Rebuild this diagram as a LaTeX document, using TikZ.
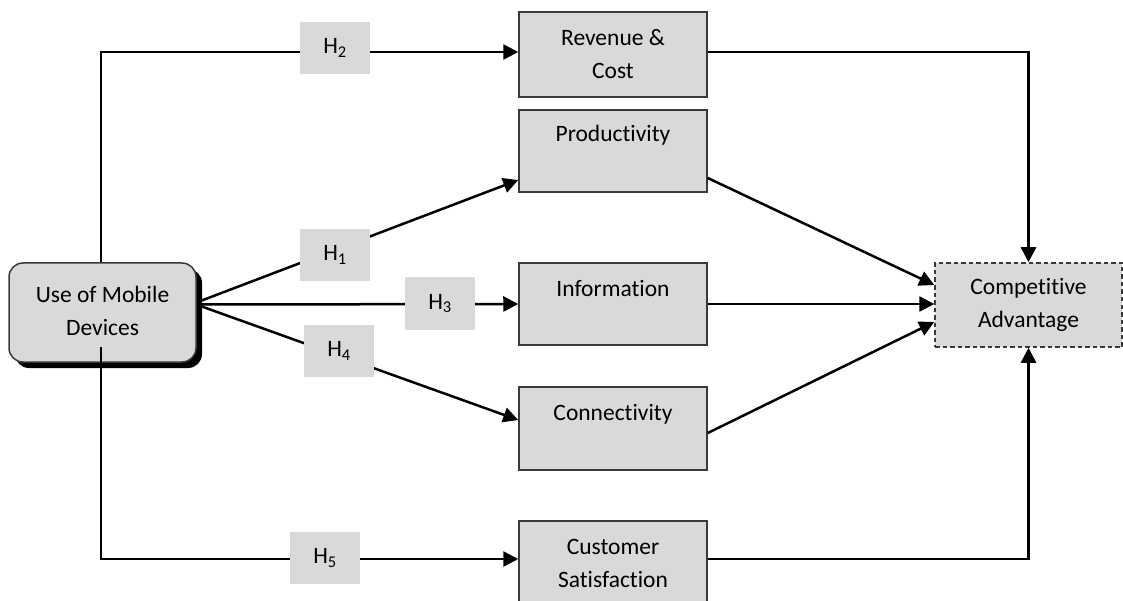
\documentclass[tikz,border=0pt]{standalone}
\usepackage{fontspec}
\setmainfont{Carlito}[Ligatures={NoCommon}]
\usetikzlibrary{arrows.meta,shadows}
\definecolor{boxgray}{HTML}{D9D9D9}
\definecolor{edgegray}{HTML}{3A3A3A}
\begin{document}
\begin{tikzpicture}[x=1pt,y=-1pt,
  every node/.style={font=\fontsize{23.5}{33}\selectfont},
  box/.style={draw=edgegray, line width=1.5pt, fill=boxgray, inner sep=0pt, minimum width=188pt, align=center},
  hbox/.style={fill=boxgray, inner sep=0pt, minimum width=70pt, minimum height=52pt},
  conn/.style={line width=2.5pt, -{Triangle[length=15pt,width=15pt]}}
]
\useasboundingbox (0,0) rectangle (1123,601);
% boxes
\node[box, rounded corners=14pt, minimum width=187pt, minimum height=99pt,
      drop shadow={shadow xshift=6pt, shadow yshift=-6pt, fill=black, opacity=1}]
      (umd) at (102.5,312.5) {\raisebox{-6pt}{\begin{tabular}{@{}c@{}}Use of Mobile\\[0pt]Devices\end{tabular}}};
\node[box, minimum height=85pt] (rev) at (613,54.5) {Revenue \&\\Cost};
\node[box, text height=32pt, text depth=50pt] (prod) at (613,151) {Productivity};
\node[box, text height=33pt, text depth=49pt] (info) at (613,304) {Information};
\node[box, text height=33pt, text depth=50pt] (con) at (613,428.5) {Connectivity};
\node[box, minimum height=84pt] (cust) at (613,563) {Customer\\Satisfaction};
\node[box, dash pattern=on 4.5pt off 3pt, minimum width=187pt, minimum height=84pt] (ca) at (1028.5,305) {Competitive\\Advantage};
% connectors
\draw[conn] ([xshift=-1.5pt]umd.north) |- ([yshift=2.5pt]rev.west);
\draw[conn] ([xshift=-1.5pt,yshift=-34.5pt]umd.center) |- ([yshift=4pt]cust.west);
\draw[conn] ([xshift=5pt,yshift=12pt]umd.east) -- ([yshift=-29pt]prod.west);
\draw[conn] ([xshift=5pt,yshift=8pt]umd.east) -- (info.west);
\draw[conn] ([xshift=5pt,yshift=6pt]umd.east) -- ([yshift=8.5pt]con.west);
\draw[conn] ([yshift=2.5pt]rev.east) -| (ca.north);
\draw[conn] ([yshift=4pt]cust.east) -| (ca.south);
\draw[conn] ([yshift=-27pt]prod.east) -- ([yshift=20pt]ca.west);
\draw[conn] (info.east) -- ([yshift=1pt]ca.west);
\draw[conn] ([yshift=-4.5pt]con.east) -- ([yshift=-17pt]ca.west);
% hypothesis labels
\node[hbox] (h2) at (335,48) {H\textsubscript{2}};
\node[hbox] (h1) at (335,255) {H\textsubscript{1}};
\node[hbox] (h3) at (440,303.5) {H\textsubscript{3}};
\node[hbox] (h4) at (339,351) {H\textsubscript{4}};
\node[hbox] (h5) at (325,558) {H\textsubscript{5}};
\end{tikzpicture}
\end{document}
